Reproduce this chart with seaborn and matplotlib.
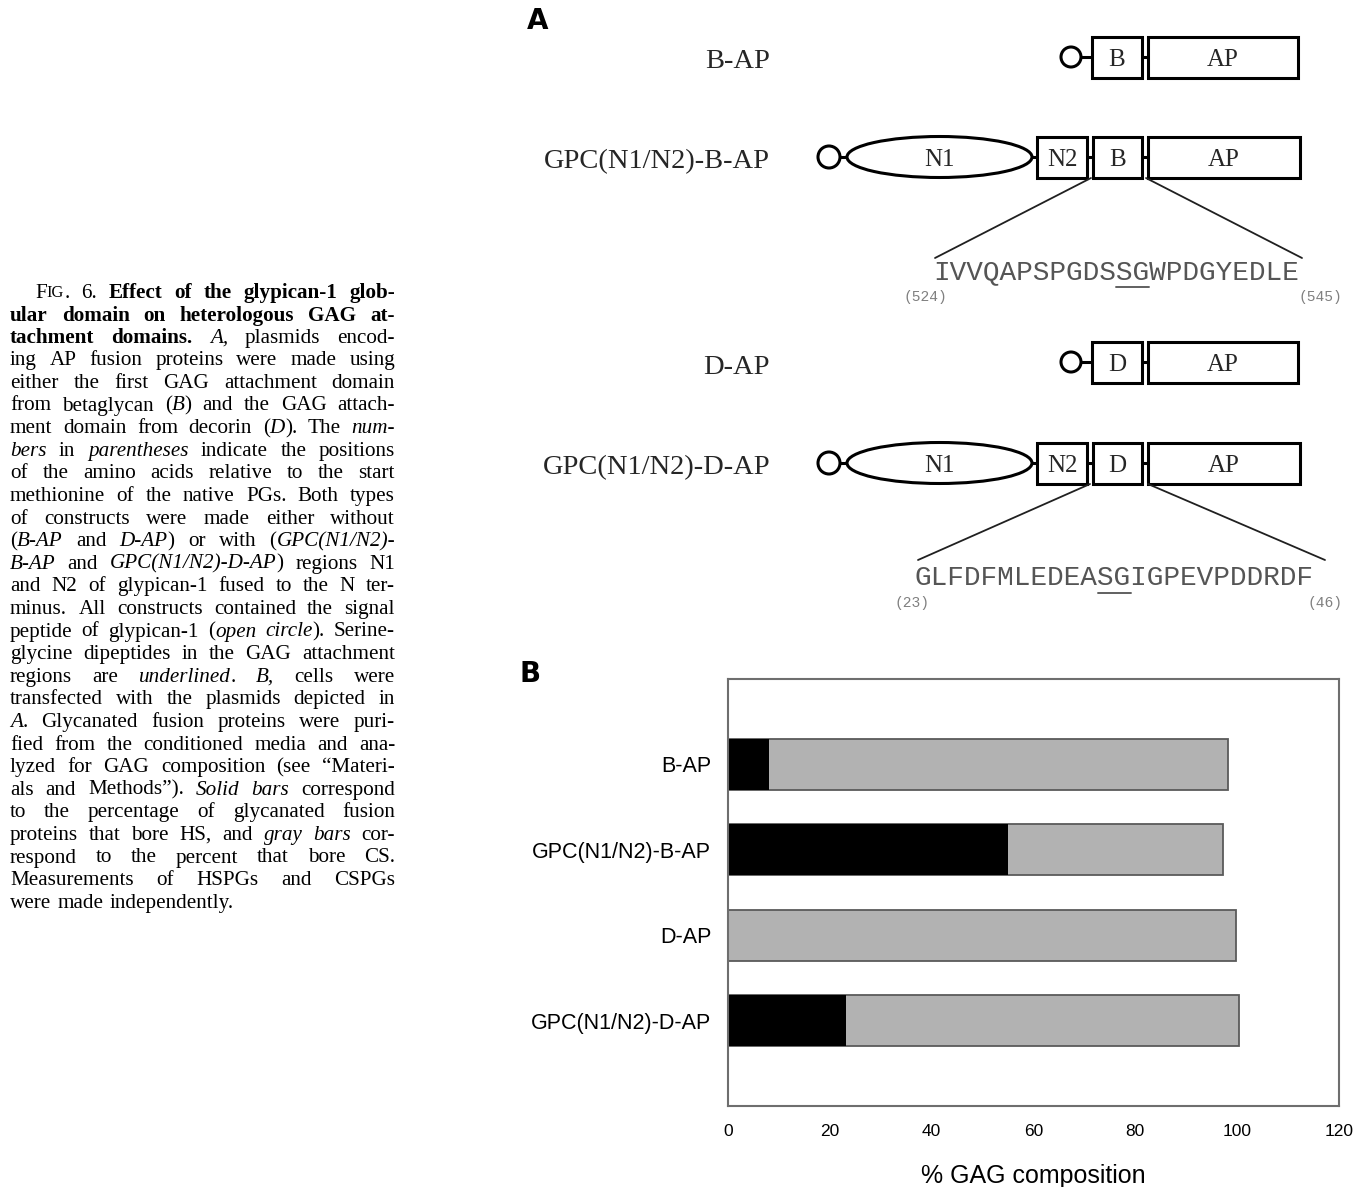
import matplotlib
matplotlib.use('Agg')
import matplotlib.pyplot as plt
import seaborn as sns
import pandas as pd
from matplotlib.patches import Rectangle, Ellipse, Circle

# ---- panel B data (% of glycanated fusion protein) ----
constructs = ['B-AP', 'GPC(N1/N2)-B-AP', 'D-AP', 'GPC(N1/N2)-D-AP']
hs_pct = [8.0, 55.0, 0.0, 23.2]
cs_pct = [90.2, 42.2, 99.8, 77.2]
x_ticks = [0, 20, 40, 60, 80, 100, 120]
x_label = '% GAG composition'

# ---- panel A sequences ----
seq_b = 'IVVQAPSPGDSSGWPDGYEDLE'
seq_b_range = ['(524)', '(545)']
seq_d = 'GLFDFMLEDEASGIGPEVPDDRDF'
seq_d_range = ['(23)', '(46)']

# ---- legend text (r regular, b bold, i italic, s small caps) ----
caption = [
    [('F', 'r'), ('IG', 's'), ('. 6. ', 'r'), ('Effect of the glypican-1 glob-', 'b')],
    [('ular domain on heterologous GAG at-', 'b')],
    [('tachment domains. ', 'b'), ('A,', 'i'), (' plasmids encod-', 'r')],
    [('ing AP fusion proteins were made using', 'r')],
    [('either the first GAG attachment domain', 'r')],
    [('from betaglycan (', 'r'), ('B', 'i'), (') and the GAG attach-', 'r')],
    [('ment domain from decorin (', 'r'), ('D', 'i'), ('). The ', 'r'), ('num-', 'i')],
    [('bers', 'i'), (' in ', 'r'), ('parentheses', 'i'), (' indicate the positions', 'r')],
    [('of the amino acids relative to the start', 'r')],
    [('methionine of the native PGs. Both types', 'r')],
    [('of constructs were made either without', 'r')],
    [('(', 'r'), ('B-AP', 'i'), (' and ', 'r'), ('D-AP', 'i'), (') or with (', 'r'), ('GPC(N1/N2)-', 'i')],
    [('B-AP', 'i'), (' and ', 'r'), ('GPC(N1/N2)-D-AP', 'i'), (') regions N1', 'r')],
    [('and N2 of glypican-1 fused to the N ter-', 'r')],
    [('minus. All constructs contained the signal', 'r')],
    [('peptide of glypican-1 (', 'r'), ('open circle', 'i'), ('). Serine-', 'r')],
    [('glycine dipeptides in the GAG attachment', 'r')],
    [('regions are ', 'r'), ('underlined', 'i'), ('. ', 'r'), ('B,', 'i'), (' cells were', 'r')],
    [('transfected with the plasmids depicted in', 'r')],
    [('A', 'i'), ('. Glycanated fusion proteins were puri-', 'r')],
    [('fied from the conditioned media and ana-', 'r')],
    [('lyzed for GAG composition (see \u201cMateri-', 'r')],
    [('als and Methods\u201d). ', 'r'), ('Solid bars', 'i'), (' correspond', 'r')],
    [('to the percentage of glycanated fusion', 'r')],
    [('proteins that bore HS, and ', 'r'), ('gray bars', 'i'), (' cor-', 'r')],
    [('respond to the percent that bore CS.', 'r')],
    [('Measurements of HSPGs and CSPGs', 'r')],
    [('were made independently.', 'r')],
]

W, H = 1367, 1187
sns.set_style('white')
fig = plt.figure(figsize=(W / 100, H / 100), dpi=100)

# full-figure canvas in pixel units for the legend and the schematic
ax0 = fig.add_axes([0, 0, 1, 1])
ax0.set_xlim(0, W)
ax0.set_ylim(H, 0)
ax0.axis('off')
renderer = fig.canvas.get_renderer()

serif = 'Liberation Serif'
cap_font = 'Liberation Serif'
sans = 'Liberation Sans'


def style_kw(st, fs):
    kw = dict(family=cap_font, fontsize=fs, color='black')
    if st == 'b':
        kw['fontweight'] = 'bold'
    elif st == 'i':
        kw['fontstyle'] = 'italic'
    elif st == 's':
        kw['fontsize'] = fs * 0.78
    return kw


def split_words(runs):
    words = [[]]
    for txt, st in runs:
        for k, p in enumerate(txt.split(' ')):
            if k > 0:
                words.append([])
            if p:
                words[-1].append((p, st))
    return [w for w in words if w]


def measure(words, y, fs):
    items, total = [], 0.0
    for w in words:
        arts, ww = [], 0.0
        for p, st in w:
            t = ax0.text(0, y, p, va='center', ha='left', **style_kw(st, fs))
            wd = t.get_window_extent(renderer).width
            arts.append((t, wd))
            ww += wd
        items.append((arts, ww))
        total += ww
    return items, total


cap_x0, cap_x1 = 10, 395
cap_y0, cap_dy = 293, 22.6
fs_base = 15.2
min_gap = 4.0

# first pass: find a size that fits every justified line
need = 1.0
for i, runs in enumerate(caption):
    words = split_words(runs)
    x0 = 35 if i == 0 else cap_x0
    items, total = measure(words, 0, fs_base)
    for arts, _ in items:
        for t, _ in arts:
            t.remove()
    need = max(need, (total + (len(words) - 1) * min_gap) / (cap_x1 - x0))
fs_cap = fs_base / need

for i, runs in enumerate(caption):
    words = split_words(runs)
    y = cap_y0 + i * cap_dy
    x0 = 35 if i == 0 else cap_x0
    items, total = measure(words, y, fs_cap)
    if i < len(caption) - 1 and len(items) > 1:
        gap = (cap_x1 - x0 - total) / (len(items) - 1)
    else:
        gap = fs_cap * 1.389 * 0.3
    x = x0
    for arts, ww in items:
        for t, wd in arts:
            t.set_x(x)
            x += wd
        x += gap

# ---- panel A schematic ----
lw = 2.2
box_h = 41
row_y = [57, 157, 362, 463]


def box(x0, x1, yc, label):
    ax0.add_patch(Rectangle((x0, yc - box_h / 2), x1 - x0, box_h, fill=False, lw=lw, ec='black'))
    ax0.text((x0 + x1) / 2, yc + 3, label, ha='center', va='center', family=serif, fontsize=18)


def link(x0, x1, yc):
    ax0.plot([x0, x1], [yc, yc], color='black', lw=lw, solid_capstyle='butt')


def construct(yc, dom, long_form):
    if long_form:
        ax0.add_patch(Circle((829, yc), 11, fill=False, lw=lw, ec='black'))
        link(840, 847, yc)
        ax0.add_patch(Ellipse((939.5, yc), 185, 41, fill=False, lw=lw, ec='black'))
        ax0.text(939.5, yc + 3, 'N1', ha='center', va='center', family=serif, fontsize=18)
        link(1032, 1037, yc)
        box(1037, 1087, yc, 'N2')
        link(1087, 1093, yc)
        box(1093, 1142, yc, dom)
        link(1142, 1148, yc)
        box(1148, 1300, yc, 'AP')
    else:
        ax0.add_patch(Circle((1071, yc), 10, fill=False, lw=lw, ec='black'))
        link(1081, 1092, yc)
        box(1092, 1142, yc, dom)
        link(1142, 1148, yc)
        box(1148, 1298, yc, 'AP')


for yc, name in zip(row_y, constructs):
    ax0.text(770, yc + 5, name, ha='right', va='center', family=serif, fontsize=20.5)
    dom = 'B' if 'B-AP' in name else 'D'
    construct(yc, dom, name.startswith('GPC'))


def sequence(seq, rng, yc, x_left, ends, rng_x):
    t = ax0.text(x_left, yc, seq, ha='left', va='center', family='Liberation Mono',
                 fontsize=20, color='#555555')
    cw = t.get_window_extent(renderer).width / len(seq)
    k = seq.index('SG')
    ax0.plot([x_left + k * cw, x_left + (k + 2) * cw], [yc + 15, yc + 15], color='#606060', lw=1.4)
    for (bx, by), (sx, sy) in ends:
        ax0.plot([bx, sx], [by, sy], color='#202020', lw=1.3)
    for lab, lx in zip(rng, rng_x):
        ax0.text(lx, yc + 25, lab, ha='center', va='center', family='Liberation Mono',
                 fontsize=10.5, color='#808080')


sequence(seq_b, seq_b_range, 272, 933,
         [((1091, 178), (935, 258)), ((1146, 178), (1302, 258))], [925, 1320])
sequence(seq_d, seq_d_range, 578, 915,
         [((1090, 484), (918, 560)), ((1148, 484), (1325, 560))], [912, 1325])

ax0.text(527, 21, 'A', ha='left', va='center', family='DejaVu Sans', fontweight='heavy',
         fontsize=20, color='black')
ax0.text(520, 674, 'B', ha='left', va='center', family='DejaVu Sans', fontweight='heavy',
         fontsize=20, color='black')

# ---- panel B bar chart ----
df = pd.DataFrame({'construct': constructs, 'HS': hs_pct, 'CS': cs_pct})
df['total'] = df['HS'] + df['CS']

axb = fig.add_axes([728 / W, 1 - 1106 / H, (1339 - 728) / W, (1106 - 679) / H])
sns.barplot(data=df, x='total', y='construct', orient='h', color='#b2b2b2', saturation=1,
            edgecolor='#5a5a5a', linewidth=1.3, width=0.6, errorbar=None, ax=axb)
sns.barplot(data=df, x='HS', y='construct', orient='h', color='black', saturation=1,
            linewidth=0, width=0.6, errorbar=None, ax=axb)
axb.set_xlim(0, 120)
axb.set_ylim(len(constructs), -1)
axb.set_xticks(x_ticks)
axb.set_xticklabels([str(v) for v in x_ticks], family=sans, fontsize=12.5, color='black')
axb.set_yticks(range(len(constructs)))
axb.set_yticklabels(constructs, family=sans, fontsize=15.5, color='black')
axb.set_ylabel('')
axb.set_xlabel(x_label, family=sans, fontsize=18, labelpad=18, color='black')
for sp in axb.spines.values():
    sp.set_visible(True)
    sp.set_color('#6e6e6e')
    sp.set_linewidth(1.5)
axb.tick_params(axis='x', direction='out', length=5, width=1.2, color='#6e6e6e', pad=8)
axb.tick_params(axis='y', direction='out', length=4, width=1.2, color='#6e6e6e', pad=8)

fig.savefig('out.png', dpi=100)
